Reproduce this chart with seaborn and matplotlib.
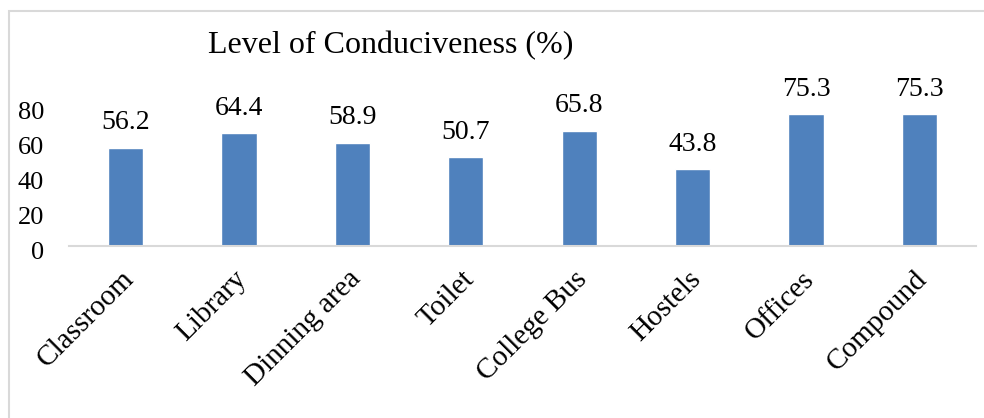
import matplotlib
matplotlib.use('Agg')
import matplotlib.pyplot as plt
import matplotlib.transforms as mtransforms
import seaborn as sns
import pandas as pd
from matplotlib.patches import Rectangle

categories = ['Classroom', 'Library', 'Dinning area', 'Toilet', 'College Bus',
              'Hostels', 'Offices', 'Compound']
values = [56.2, 64.4, 58.9, 50.7, 65.8, 43.8, 75.3, 75.3]
yticks = [0, 20, 40, 60, 80]
title = 'Level of Conduciveness (%)'

sns.set_style('white')
plt.rcParams['font.family'] = ['Liberation Serif', 'DejaVu Serif']
plt.rcParams['text.color'] = 'black'
plt.rcParams['xtick.color'] = 'black'
plt.rcParams['ytick.color'] = 'black'

df = pd.DataFrame({'place': categories, 'pct': values})

W, H = 984, 418
fig = plt.figure(figsize=(W / 100, H / 100), dpi=100)
# axes: x 69..976 px, y baseline 246 px, value 80 at 106 px
ax = fig.add_axes([69 / W, (H - 246) / H, (976 - 69) / W, 140 / H])

sns.barplot(data=df, x='place', y='pct', color='#4F81BD', saturation=1,
            width=0.31, ax=ax)

ax.set_ylim(0, 80)
ax.set_xlim(-0.5, len(categories) - 0.5)
ax.set_yticks(yticks)
ax.set_yticklabels([str(t) for t in yticks], fontsize=19)
ax.tick_params(axis='y', length=0, pad=18)
ax.tick_params(axis='x', length=0, pad=21)
ax.set_xticks(range(len(categories)))
ax.set_xticklabels(categories, rotation=45, ha='right', va='center',
                   rotation_mode='anchor', fontsize=21)
yshift = mtransforms.ScaledTranslation(0, -7 / 100, fig.dpi_scale_trans)
for lab in ax.get_yticklabels():
    lab.set_va('center')
    lab.set_transform(lab.get_transform() + yshift)
xshift = mtransforms.ScaledTranslation(4 / 100, 0, fig.dpi_scale_trans)
for lab in ax.get_xticklabels():
    lab.set_transform(lab.get_transform() + xshift)
ax.set_xlabel('')
ax.set_ylabel('')

for s in ['top', 'right', 'left']:
    ax.spines[s].set_visible(False)
ax.spines['bottom'].set_color('#D9D9D9')
ax.spines['bottom'].set_linewidth(1.5)

for i, v in enumerate(values):
    ax.annotate(f'{v}', (i, v), xytext=(0, 9), textcoords='offset points',
                ha='center', va='bottom', fontsize=20, annotation_clip=False)

fig.text(391 / W, 1 - 46 / H, title, ha='center', va='center', fontsize=23)

# outer chart border (left and top edges visible)
fig.patches.append(Rectangle((9 / W, -0.05), 1.2, 1 - 11 / H + 0.05,
                             transform=fig.transFigure, fill=False,
                             edgecolor='#D9D9D9', linewidth=1.5))

fig.savefig('out.png', dpi=100)
